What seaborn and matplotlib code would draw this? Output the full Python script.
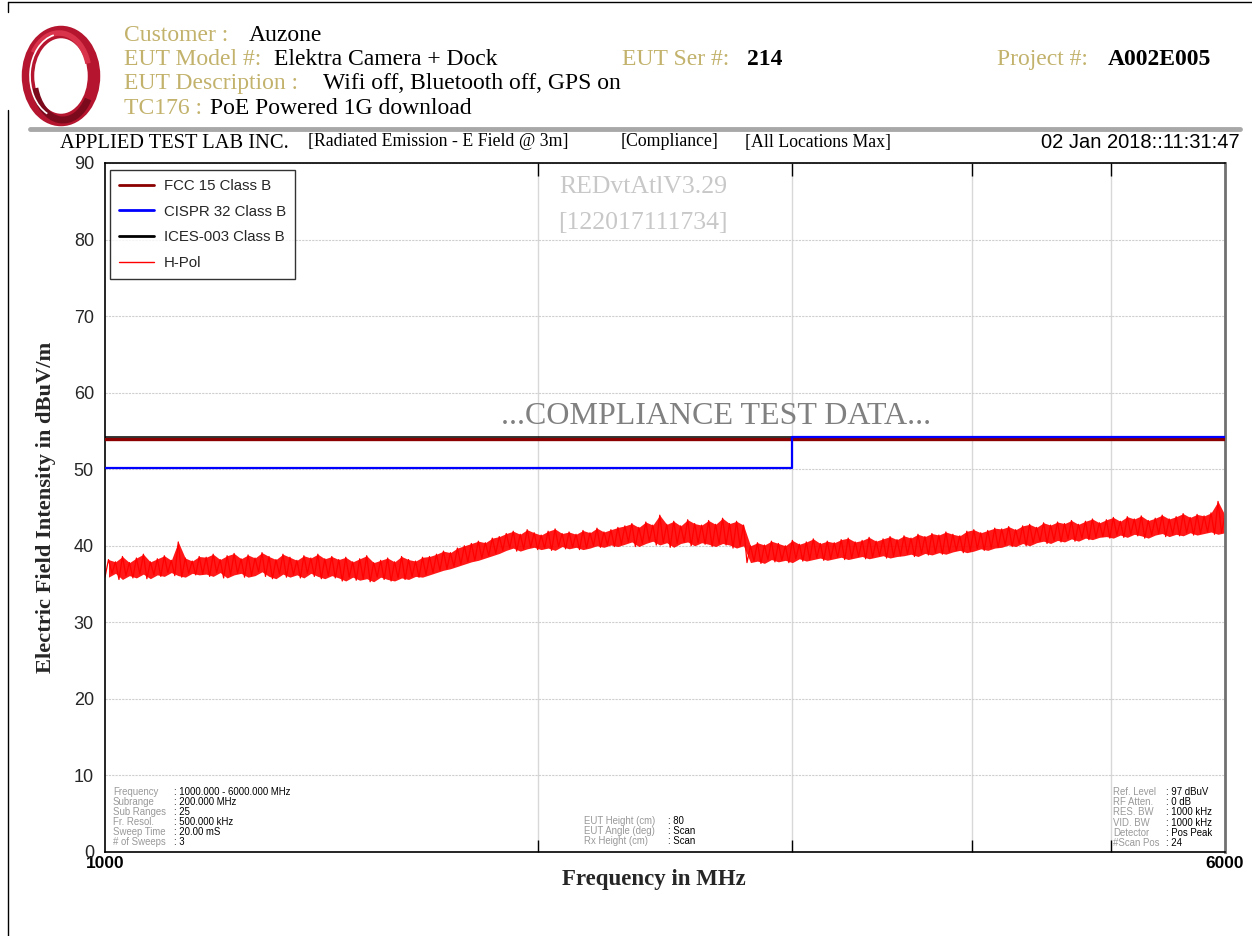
import matplotlib
matplotlib.use("Agg")
import matplotlib.pyplot as plt
import matplotlib.transforms as mtransforms
import numpy as np
import pandas as pd
import seaborn as sns
from matplotlib.lines import Line2D
from matplotlib.patches import Ellipse, Arc
from matplotlib.ticker import FixedLocator, NullFormatter, FixedFormatter

# limit lines
fcc_freq = [1000, 6000]
fcc_db = [54, 54]
cispr_freq = [1000, 3000, 3000, 6000]
cispr_db = [50, 50, 54, 54]
ices_freq = [1000, 6000]
ices_db = [54, 54]

hpol_lo = [35.9, 36.4, 35.6, 36.1, 35.8, 36.3, 35.7, 36.2, 36.0, 36.5, 36.1, 35.9, 36.4, 36.2,
           36.3, 36.0, 36.5, 35.8, 36.2, 36.4, 35.9, 36.1, 36.6, 36.0, 35.7, 36.3, 35.9, 36.2, 35.8, 36.4, 36.0, 35.7, 36.1,
           35.8, 35.4, 35.9, 35.5, 35.7, 35.3, 35.9, 35.6, 35.4, 35.8, 35.6, 36.0, 35.9,
           36.2, 36.5, 36.8, 37.0, 37.3, 37.6, 37.9, 38.1, 38.4, 38.7, 39.0,
           39.4, 39.7, 39.3, 39.6, 39.8, 39.5, 39.7, 39.4, 39.9, 39.6, 39.8, 39.5, 39.7, 40.0, 39.8, 40.1, 39.9,
           40.2, 40.5, 39.9, 40.3, 40.6, 40.1, 40.4, 39.8, 40.3, 40.5, 40.0, 40.4, 40.2, 39.9, 40.3, 40.1, 39.7, 40.0,
           37.8,
           38.0, 37.7, 38.2, 37.9, 38.1, 37.8, 38.3, 38.0, 38.2, 38.4, 38.1, 38.3, 38.5, 38.2, 38.4, 38.6, 38.3, 38.5, 38.7, 38.4, 38.6,
           38.7, 38.9, 38.6, 39.0, 38.8, 39.1, 38.9, 39.2, 39.4, 39.1, 39.3, 39.6, 39.4, 39.7,
           39.8, 40.1, 39.9, 40.3, 40.0, 40.4, 40.6, 40.3, 40.7, 40.5, 40.9, 40.6, 41.0, 40.8, 41.1,
           41.2, 41.0, 41.4, 41.1, 41.5, 41.3, 41.0, 41.4, 41.6, 41.2, 41.5, 41.3, 41.7, 41.4, 41.6, 41.8, 41.5, 41.7]
hpol_hi = [38.2, 37.9, 38.6, 37.8, 38.4, 38.9, 37.9, 38.3, 38.7, 38.1, 40.5, 38.4, 38.0, 38.6,
           38.5, 38.9, 38.2, 38.7, 39.0, 38.3, 38.8, 38.4, 39.1, 38.6, 38.2, 38.9, 38.5, 38.1, 38.7, 38.4, 38.9, 38.3, 38.6,
           38.2, 38.5, 37.9, 38.3, 38.7, 37.8, 38.1, 38.4, 37.9, 38.6, 38.2, 38.0, 38.5,
           38.6, 38.9, 39.3, 39.1, 39.7, 40.0, 40.3, 40.6, 40.4, 41.0, 41.2,
           41.6, 41.9, 41.5, 42.1, 41.7, 41.4, 41.9, 42.2, 41.6, 41.8, 41.5, 42.0, 41.7, 42.3, 41.8, 42.1, 42.4,
           42.6, 42.9, 42.4, 43.1, 42.7, 44.0, 42.8, 43.2, 42.6, 43.4, 42.9, 42.7, 43.3, 42.8, 43.6, 42.9, 43.2, 42.7,
           40.0,
           40.4, 40.1, 40.6, 40.3, 40.0, 40.7, 40.2, 40.5, 40.9, 40.3, 40.6, 40.4, 40.8, 41.0, 40.5, 40.7, 41.1, 40.6, 40.9, 41.2, 40.8,
           41.3, 41.0, 41.5, 41.2, 41.6, 41.4, 41.8, 41.5, 41.3, 41.9, 42.1, 41.7, 42.0, 42.3,
           42.2, 42.5, 42.1, 42.6, 42.8, 42.4, 43.0, 42.7, 43.1, 42.9, 43.3, 42.8, 43.2, 43.5, 43.0,
           43.4, 43.7, 43.2, 43.8, 43.5, 43.9, 43.3, 43.6, 44.0, 43.5, 43.8, 44.2, 43.7, 44.1, 43.9, 44.3, 45.8, 44.0]

y_ticks = [0, 10, 20, 30, 40, 50, 60, 70, 80, 90]
x_tick_labels = ["1000", "6000"]

info_left = [("Frequency", ": 1000.000 - 6000.000 MHz"), ("Subrange", ": 200.000 MHz"),
             ("Sub Ranges", ": 25"), ("Fr. Resol.", ": 500.000 kHz"),
             ("Sweep Time", ": 20.00 mS"), ("# of Sweeps", ": 3")]
info_mid = [("EUT Height (cm)", ": 80"), ("EUT Angle (deg)", ": Scan"), ("Rx Height (cm)", ": Scan")]
info_right = [("Ref. Level", ": 97 dBuV"), ("RF Atten.", ": 0 dB"), ("RES. BW", ": 1000 kHz"),
              ("VID. BW", ": 1000 kHz"), ("Detector", ": Pos Peak"), ("#Scan Pos", ": 24")]

W, H = 1252, 936


def px(x, y):
    return x / W, 1 - y / H


sns.set_theme(style="white")
plt.rcParams['font.family'] = ['Liberation Sans', 'DejaVu Sans']
SERIF = ['Liberation Serif', 'DejaVu Serif']
SANS = ['Liberation Sans', 'DejaVu Sans']

fig = plt.figure(figsize=(W / 100, H / 100), dpi=100)
fig.patch.set_facecolor("white")
ax = fig.add_axes([105 / W, 1 - 852 / H, 1120 / W, 689 / H])

# interleave dips and peaks into one trace
n = len(hpol_lo)
trace = np.empty(2 * n)
trace[0::2] = hpol_lo
trace[1::2] = hpol_hi
freq = np.geomspace(1000, 6000, 2 * n)
df = pd.DataFrame({"freq": freq, "db": trace})

up1 = mtransforms.offset_copy(ax.transData, fig=fig, x=0, y=1.2, units="dots")
sns.lineplot(x=fcc_freq, y=fcc_db, ax=ax, color="#8B0000", lw=2.4, estimator=None, sort=False,
             label="FCC 15 Class B", zorder=3)
sns.lineplot(x=ices_freq, y=ices_db, ax=ax, color="black", lw=1.1, estimator=None, sort=False,
             label="ICES-003 Class B", zorder=4, transform=up1)
sns.lineplot(x=cispr_freq, y=cispr_db, ax=ax, color="#0000FF", lw=1.6, estimator=None, sort=False,
             label="CISPR 32 Class B", zorder=5, transform=up1)
ax.fill_between(freq[1::2], hpol_lo, hpol_hi, color="#FF0000", alpha=0.9, lw=0, zorder=2)
sns.lineplot(data=df, x="freq", y="db", ax=ax, color="#FF0000", lw=0.9, estimator=None, sort=False,
             label="H-Pol", zorder=2)

ax.set_xscale("log")
ax.set_xlim(1000, 6000)
ax.set_ylim(0, 90)
ax.xaxis.set_major_locator(FixedLocator([1000, 6000]))
ax.xaxis.set_major_formatter(FixedFormatter(x_tick_labels))
ax.xaxis.set_minor_locator(FixedLocator([2000, 3000, 4000, 5000]))
ax.xaxis.set_minor_formatter(NullFormatter())
ax.yaxis.set_major_locator(FixedLocator(y_ticks))
ax.yaxis.set_minor_locator(FixedLocator(np.arange(0, 91, 2)))

ax.grid(which="minor", axis="x", color="#D8D8D8", lw=1, ls="-")
ax.grid(which="major", axis="y", color="#CFCFCF", lw=0.8, ls=(0, (2, 1)))
ax.set_axisbelow(True)

ax.tick_params(axis="x", which="major", length=0, labelsize=12.5, pad=3, colors="black")
ax.tick_params(axis="x", which="minor", direction="in", length=9, top=True, bottom=True, width=1, color="black")
ax.tick_params(axis="y", which="major", direction="out", length=6, labelsize=13, pad=2, color="black")
ax.tick_params(axis="y", which="minor", direction="in", length=5, color="black")
for lab in ax.get_xticklabels():
    lab.set_fontweight("bold")
    lab.set_family(SANS)
for lab in ax.get_yticklabels():
    lab.set_family(SANS)

for s in ["left", "top", "bottom"]:
    ax.spines[s].set_color("black")
    ax.spines[s].set_linewidth(1.2)
ax.spines["right"].set_color("#707070")
ax.spines["right"].set_linewidth(2)

ax.set_xlabel("Frequency in MHz", fontsize=16.5, fontweight="bold", family=SERIF)
ax.xaxis.set_label_coords((654 - 105) / 1120, -0.024)
ax.set_ylabel("Electric Field Intensity in dBuV/m", fontsize=16.2, fontweight="bold", family=SERIF)
ax.yaxis.set_label_coords(-0.044, 0.5)

# legend in reference order
handles, labels = ax.get_legend_handles_labels()
order = ["FCC 15 Class B", "CISPR 32 Class B", "ICES-003 Class B", "H-Pol"]
hmap = dict(zip(labels, handles))
leg = ax.legend([hmap[k] for k in order], order, loc="upper left", bbox_to_anchor=(0.0045, 0.99),
                borderaxespad=0, frameon=True, fancybox=False, fontsize=10.8, handlelength=2.3,
                labelspacing=0.78, borderpad=0.6, handletextpad=0.7)
leg.get_frame().set_edgecolor("black")
leg.get_frame().set_linewidth(1)
for t in leg.get_texts():
    t.set_family(SANS)
for l in leg.get_lines():
    l.set_linewidth(2)
leg.get_lines()[3].set_linewidth(1)

# watermark and banner
ax.text((643 - 105) / 1120, 1 - (187 - 163) / 689, "REDvtAtlV3.29", transform=ax.transAxes,
        ha="center", va="center", fontsize=18.5, color="#C8C8C8", family=SERIF)
ax.text((643 - 105) / 1120, 1 - (223 - 163) / 689, "[122017111734]", transform=ax.transAxes,
        ha="center", va="center", fontsize=18.5, color="#C8C8C8", family=SERIF)
ax.text((716 - 105) / 1120, 1 - (417 - 163) / 689, "...COMPLIANCE TEST DATA...", transform=ax.transAxes,
        ha="center", va="center", fontsize=23, color="#808080", family=SERIF)

# info blocks
def info_block(rows, x_lab, x_val, y0, dy):
    for i, (a, b) in enumerate(rows):
        fig.text(*px(x_lab, y0 + i * dy), a, fontsize=6.9, color="#999999", va="center", family=SANS)
        fig.text(*px(x_val, y0 + i * dy), b, fontsize=6.9, color="black", va="center", family=SANS)


info_block(info_left, 113, 174, 792, 10.0)
info_block(info_mid, 584, 668, 821, 10.0)
info_block(info_right, 1113, 1166, 792, 10.2)

# header
GOLD = "#C2B26C"
hdr = 17
rows_y = [35.5, 59.5, 83.5, 108]
fig.text(*px(124, rows_y[0]), "Customer :", fontsize=hdr, color=GOLD, va="center", family=SERIF)
fig.text(*px(249, rows_y[0]), "Auzone", fontsize=hdr, color="black", va="center", family=SERIF)
fig.text(*px(124, rows_y[1]), "EUT Model #:", fontsize=hdr, color=GOLD, va="center", family=SERIF)
fig.text(*px(274, rows_y[1]), "Elektra Camera + Dock", fontsize=hdr, color="black", va="center", family=SERIF)
fig.text(*px(622, rows_y[1]), "EUT Ser #:", fontsize=hdr, color=GOLD, va="center", family=SERIF)
fig.text(*px(747, rows_y[1]), "214", fontsize=hdr, color="black", va="center", family=SERIF, fontweight="bold")
fig.text(*px(997, rows_y[1]), "Project #:", fontsize=hdr, color=GOLD, va="center", family=SERIF)
fig.text(*px(1108, rows_y[1]), "A002E005", fontsize=hdr, color="black", va="center", family=SERIF, fontweight="bold")
fig.text(*px(124, rows_y[2]), "EUT Description :", fontsize=hdr, color=GOLD, va="center", family=SERIF)
fig.text(*px(323, rows_y[2]), "Wifi off, Bluetooth off, GPS on", fontsize=hdr, color="black", va="center", family=SERIF)
fig.text(*px(124, rows_y[3]), "TC176 :", fontsize=hdr, color=GOLD, va="center", family=SERIF)
fig.text(*px(210, rows_y[3]), "PoE Powered 1G download", fontsize=hdr, color="black", va="center", family=SERIF)

fig.text(*px(60, 143), "APPLIED TEST LAB INC.", fontsize=14.8, color="black", va="center", family=SERIF)
fig.text(*px(308, 142), "[Radiated Emission - E Field @ 3m]", fontsize=12.8, color="black", va="center", family=SERIF)
fig.text(*px(621, 142), "[Compliance]", fontsize=12.8, color="black", va="center", family=SERIF)
fig.text(*px(745, 142), "[All Locations Max]", fontsize=12.8, color="black", va="center", family=SERIF)
fig.text(*px(1240, 143), "02 Jan 2018::11:31:47", fontsize=14.5, color="black", va="center", ha="right", family=SANS)

# separator and page frame
fig.add_artist(Line2D([30 / W, 1240 / W], [1 - 128.5 / H] * 2, color="#A8A8A8", lw=3.5))
fig.add_artist(Line2D([8 / W, 8 / W], [1 - 110 / H, 0], color="black", lw=1))
fig.add_artist(Line2D([8 / W, 8 / W], [1 - 2 / H, 1 - 12 / H], color="black", lw=1))
fig.add_artist(Line2D([8 / W, 1], [1 - 2 / H] * 2, color="black", lw=1))

# logo ring
logo_ax = fig.add_axes([18 / W, 1 - 130 / H, 86 / W, 108 / H])
logo_ax.set_xlim(0, 86)
logo_ax.set_ylim(0, 108)
logo_ax.axis("off")
logo_ax.add_patch(Ellipse((43, 54), 66, 88, fill=False, edgecolor="#B5152E", lw=9))
logo_ax.add_patch(Arc((45, 52), 58, 84, theta1=200, theta2=320, edgecolor="#7A0A1C", lw=5))
logo_ax.add_patch(Arc((41, 56), 60, 82, theta1=20, theta2=140, edgecolor="#D8334A", lw=4))
logo_ax.add_patch(Arc((43, 54), 62, 84, theta1=100, theta2=250, edgecolor="white", lw=1.2))

fig.savefig("out.png", dpi=100, facecolor="white")
